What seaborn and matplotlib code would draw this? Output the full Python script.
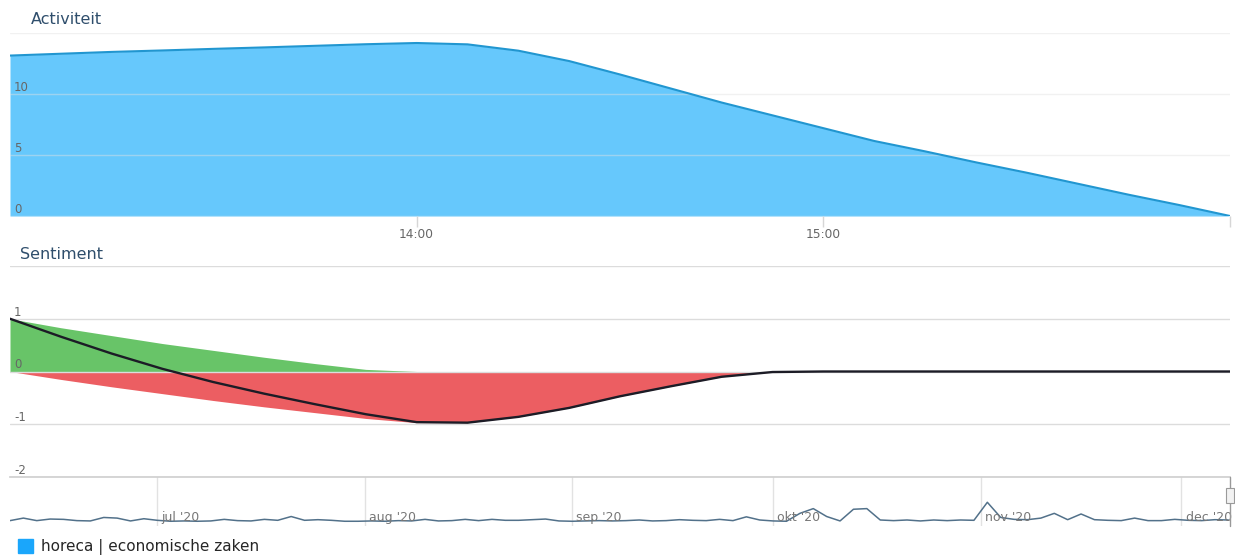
import pandas as pd
import matplotlib
matplotlib.use("Agg")
import matplotlib.pyplot as plt
import matplotlib.dates as mdates
import matplotlib.ticker as mticker
from matplotlib.patches import Patch, Rectangle
import seaborn as sns

# ── Style ────────────────────────────────────────────────────────────────────
sns.set_theme(style="white")
plt.rcParams["font.family"] = ["DejaVu Sans"]

TITLE_COLOR = "#2f4e6c"
LABEL_COLOR = "#666666"
GRID_COLOR = "#e2e2e2"

# ── Data ────────────────────────────────────────────────────────────────────
ACT_START = "2020-12-08 13:00"
ACT_END = "2020-12-08 16:00"
ACT_VALUES = [13.15, 13.3, 13.45, 13.57, 13.7, 13.82, 13.95, 14.08, 14.18,
              14.07, 13.55, 12.7, 11.6, 10.45, 9.3, 8.25, 7.2, 6.15, 5.3,
              4.4, 3.55, 2.65, 1.75, 0.9, 0.0]

SENT_POS = [1.0, 0.83, 0.68, 0.53, 0.40, 0.27, 0.15, 0.04, 0.0,
            0, 0, 0, 0, 0, 0, 0, 0, 0, 0, 0, 0, 0, 0, 0, 0]
SENT_NEG = [0.0, -0.15, -0.29, -0.42, -0.55, -0.67, -0.78, -0.89, -0.97,
            -0.97, -0.86, -0.69, -0.47, -0.28, -0.10, -0.01, 0.0,
            0, 0, 0, 0, 0, 0, 0, 0]
SENT_NET = [1.0, 0.66, 0.34, 0.05, -0.20, -0.42, -0.62, -0.81, -0.96,
            -0.97, -0.86, -0.69, -0.47, -0.28, -0.10, -0.01, 0.0,
            0, 0, 0, 0, 0, 0, 0, 0]

NAV_START = "2020-06-09"
NAV_VALUES = [0.2, 1.0, 0.2, 0.7, 0.6, 0.2, 0.1, 1.2, 1.0, 0.1,
              0.8, 0.3, 0.0, 0.1, 0.0, 0.1, 0.6, 0.2, 0.1, 0.6,
              0.3, 1.5, 0.3, 0.5, 0.3, 0.0, 0.0, 0.1, 0.0, 0.2,
              0.1, 0.6, 0.1, 0.2, 0.6, 0.2, 0.6, 0.3, 0.3, 0.5,
              0.7, 0.1, 0.0, 0.1, 0.2, 0.1, 0.2, 0.4, 0.1, 0.2,
              0.5, 0.3, 0.2, 0.6, 0.2, 1.4, 0.4, 0.1, 0.0, 2.5,
              4.0, 1.5, 0.1, 3.8, 4.0, 0.4, 0.2, 0.4, 0.1, 0.4,
              0.2, 0.4, 0.3, 6.0, 1.2, 0.6, 0.5, 1.0, 2.5, 0.5,
              2.3, 0.5, 0.3, 0.2, 1.0, 0.2, 0.2, 0.6, 0.3, 0.2,
              0.5, 0.4]
NAV_TICKS = ["2020-07-01", "2020-08-01", "2020-09-01",
             "2020-10-01", "2020-11-01", "2020-12-01"]
NAV_LABELS = ["jul '20", "aug '20", "sep '20", "okt '20", "nov '20", "dec '20"]

SERIES_NAME = "horeca | economische zaken"

times = pd.date_range(ACT_START, ACT_END, periods=len(ACT_VALUES))
df_act = pd.DataFrame({"tijd": times, "activiteit": ACT_VALUES})
df_sent = pd.DataFrame({"tijd": times, "pos": SENT_POS,
                        "neg": SENT_NEG, "net": SENT_NET})
nav_dates = pd.date_range(NAV_START, periods=len(NAV_VALUES), freq="2D")
df_nav = pd.DataFrame({"datum": nav_dates, "waarde": NAV_VALUES})

# ── Figure layout (pixel based, 1235 x 560) ─────────────────────────────────
W, H = 1235, 560
fig = plt.figure(figsize=(W / 100, H / 100), dpi=100)
L, R = 10 / W, 1220 / W
ax1 = fig.add_axes([L, 1 - 216 / H, R, 183 / H])
ax2 = fig.add_axes([L, 1 - 477 / H, R, 211 / H])
ax3 = fig.add_axes([L, 1 - 526 / H, R, 49 / H])


def inner_ylabels(ax, ticks, hide):
    # labels drawn inside the plot, above the gridlines
    ax.set_axisbelow(False)
    ax.set_yticks(ticks)
    ax.yaxis.set_major_formatter(mticker.FuncFormatter(
        lambda v, _: "" if v in hide else f"{v:g}"))
    ax.tick_params(axis="y", length=0, pad=-3, labelsize=8.5,
                   labelcolor=LABEL_COLOR)
    for lab in ax.get_yticklabels():
        lab.set_horizontalalignment("left")
        lab.set_verticalalignment("bottom")
    ax.grid(axis="y", color=GRID_COLOR, lw=1, alpha=0.45)
    for s in ax.spines.values():
        s.set_visible(False)


# ── 1. Activiteit ───────────────────────────────────────────────────────────
ax1.fill_between(df_act["tijd"], 0, df_act["activiteit"],
                 color="#66c8fc", lw=0, zorder=2)
sns.lineplot(data=df_act, x="tijd", y="activiteit", ax=ax1,
             color="#2196d0", lw=1.5, zorder=3, legend=False)
ax1.set_xlim(pd.Timestamp(ACT_START), pd.Timestamp(ACT_END))
ax1.set_ylim(0, 15)
inner_ylabels(ax1, [0, 5, 10, 15], hide=[15])
ax1.set_xticks(pd.to_datetime(["2020-12-08 14:00", "2020-12-08 15:00",
                               "2020-12-08 16:00"]))
ax1.xaxis.set_major_formatter(mticker.FuncFormatter(
    lambda v, _: "" if mdates.num2date(v).hour == 16
    else mdates.num2date(v).strftime("%H:%M")))
ax1.tick_params(axis="x", bottom=True, length=8, width=1, color="#d6d6d6",
                pad=0.5, labelsize=8.8, labelcolor=LABEL_COLOR)
ax1.set_xlabel("")
ax1.set_ylabel("")

# ── 2. Sentiment ────────────────────────────────────────────────────────────
ax2.fill_between(df_sent["tijd"], 0, df_sent["pos"], color="#68c468",
                 lw=0, zorder=2)
ax2.fill_between(df_sent["tijd"], 0, df_sent["neg"], color="#ec5e62",
                 lw=0, zorder=2)
sns.lineplot(data=df_sent, x="tijd", y="net", ax=ax2,
             color="#1c1c26", lw=1.7, zorder=3, legend=False)
ax2.set_xlim(pd.Timestamp(ACT_START), pd.Timestamp(ACT_END))
ax2.set_ylim(-2, 2)
inner_ylabels(ax2, [-2, -1, 0, 1, 2], hide=[2])
ax2.grid(axis="y", color="#dcdcdc", lw=1, alpha=1)
ax2.set_xticks([])
ax2.set_xlabel("")
ax2.set_ylabel("")

# ── 3. Navigator ────────────────────────────────────────────────────────────
sns.lineplot(data=df_nav, x="datum", y="waarde", ax=ax3,
             color="#52718a", lw=1.1, zorder=3, legend=False)
nav_end = pd.Timestamp("2020-12-08 06:00")
ax3.set_xlim(pd.Timestamp(NAV_START), nav_end)
ax3.set_ylim(-1.5, 14)
ax3.set_yticks([])
ax3.set_xticks(pd.to_datetime(NAV_TICKS))
ax3.tick_params(axis="x", length=0, labelbottom=False)
ax3.grid(axis="x", color=GRID_COLOR, lw=1)
for s in ["left", "right", "bottom"]:
    ax3.spines[s].set_visible(False)
ax3.spines["top"].set_color("#d0d0d0")
ax3.set_xlabel("")
ax3.set_ylabel("")
for d, lab in zip(pd.to_datetime(NAV_TICKS), NAV_LABELS):
    ax3.annotate(lab, (mdates.date2num(d), 0.18),
                 xycoords=ax3.get_xaxis_transform(),
                 xytext=(3, 0), textcoords="offset points",
                 ha="left", va="center", fontsize=9, color="#777777")

# handle at the end of the selected range
end_num = mdates.date2num(nav_end)
ax3.axvline(end_num, color="#999999", lw=1, zorder=4, clip_on=False)
ax3.add_patch(Rectangle((end_num - 0.55, 0.46), 1.1, 0.32,
                        transform=ax3.get_xaxis_transform(),
                        fc="#f2f2f2", ec="#9a9a9a", lw=0.8,
                        zorder=5, clip_on=False))

# ── Titles and legend ───────────────────────────────────────────────────────
fig.text(31 / W, 1 - 20 / H, "Activiteit", fontsize=11.5,
         color=TITLE_COLOR, va="center", ha="left")
fig.text(20 / W, 1 - 255 / H, "Sentiment", fontsize=11.5,
         color=TITLE_COLOR, va="center", ha="left")

fig.legend(handles=[Patch(color="#1aa6fb")], labels=[SERIES_NAME],
           loc="center left", bbox_to_anchor=(12 / W, 1 - 547 / H),
           frameon=False, fontsize=11, handlelength=1.0, handleheight=1.1,
           handletextpad=0.5, borderaxespad=0)

fig.savefig("out.png", dpi=100)
plt.close()
print("out.png salvo")
